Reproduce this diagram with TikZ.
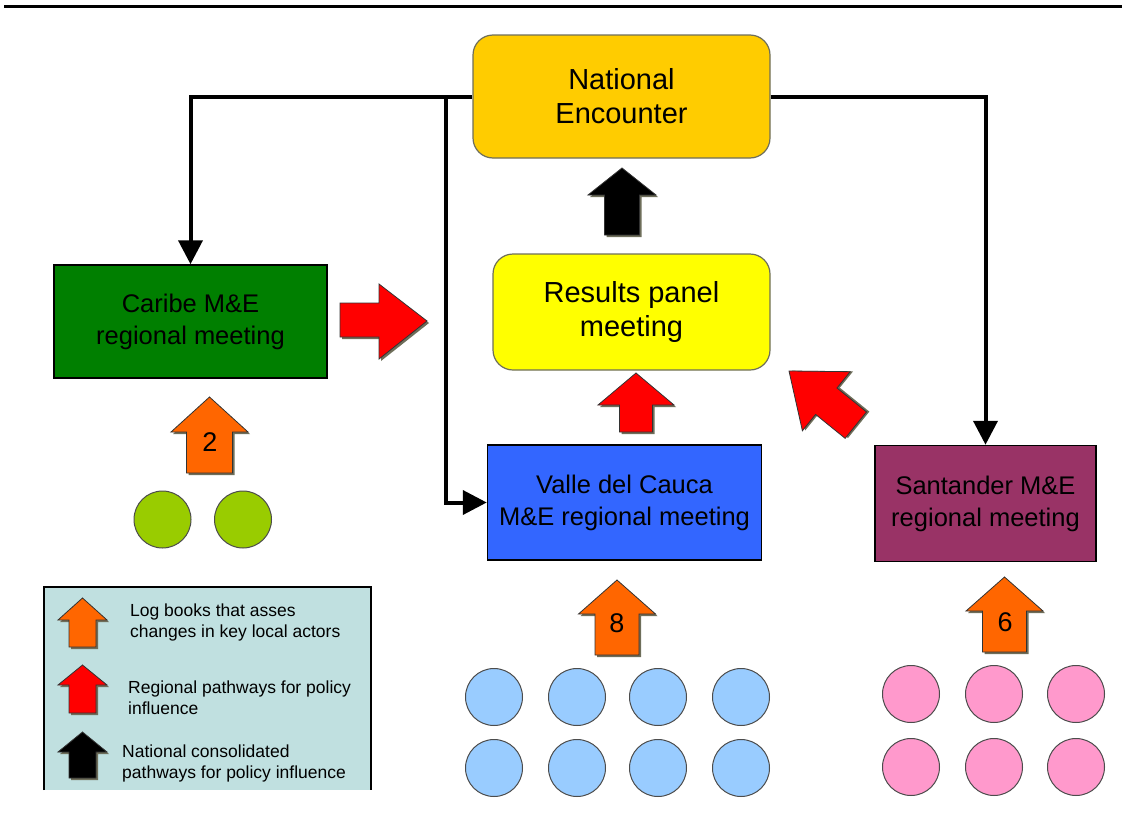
\documentclass[tikz,border=0pt]{standalone}
\usepackage{fontspec}
\setmainfont{Liberation Sans}
\usetikzlibrary{arrows.meta}
\definecolor{natc}{HTML}{FFCC00}
\definecolor{resc}{HTML}{FFFF00}
\definecolor{carc}{HTML}{007F00}
\definecolor{valc}{HTML}{3366FF}
\definecolor{sanc}{HTML}{993366}
\definecolor{orc}{HTML}{FF6600}
\definecolor{redc}{HTML}{FF0000}
\definecolor{grc}{HTML}{99CC00}
\definecolor{bluc}{HTML}{99CCFF}
\definecolor{pinkc}{HTML}{FF99CC}
\definecolor{legc}{HTML}{C0E0E0}
\definecolor{shadc}{HTML}{6E6E5A}
\newcommand\blockup[7]{%
  \fill[shadc] ({#2+2},{#3+2}) -- ({#2+#6+2},{#4+2}) -- ({#2+#7+2},{#4+2}) -- ({#2+#7+2},{#5+2}) -- ({#2-#7+2},{#5+2}) -- ({#2-#7+2},{#4+2}) -- ({#2-#6+2},{#4+2}) -- cycle;
  \filldraw[fill=#1, draw=black!80, line width=0.8pt] (#2,#3) -- ({#2+#6},#4) -- ({#2+#7},#4) -- ({#2+#7},#5) -- ({#2-#7},#5) -- ({#2-#7},#4) -- ({#2-#6},#4) -- cycle;}
\begin{document}
\begin{tikzpicture}[x=1pt,y=-1pt,
  rbox/.style={draw=shadc, line width=1.2pt, rounded corners=20pt, align=center, inner sep=0pt,
    font=\fontsize{29}{34}\selectfont},
  sbox/.style={draw=black, line width=1.5pt, align=center, inner sep=0pt,
    font=\fontsize{25.5}{32}\selectfont},
  conn/.style={line width=4pt, -{Triangle[width=24pt,length=24pt]}},
  actor/.style={circle, draw=black!70, line width=1pt, minimum size=57pt, inner sep=0pt},
  legtext/.style={anchor=west, align=left, inner sep=0pt, font=\fontsize{17.5}{21}\selectfont},
  num/.style={inner sep=0pt, font=\fontsize{27}{30}\selectfont}]
\useasboundingbox (0,0) rectangle (1122,814);
% top rule
\draw[line width=3.3pt] (4,6.3) -- (1122,6.3);

% boxes
\node[rbox, fill=natc, minimum width=297pt, minimum height=123pt] (nat) at (621.5,96.5) {National\\Encounter};
\node[rbox, fill=resc, minimum width=277pt, minimum height=116pt] (res) at (631.5,312) {Results panel\\meeting};
\node[sbox, fill=carc, minimum width=273pt, minimum height=113pt] (car) at (190.5,321.5) {Caribe M\&E\\regional meeting};
\node[sbox, fill=valc, minimum width=274pt, minimum height=115pt] (val) at (624.5,502.5) {Valle del Cauca\\M\&E regional meeting};
\node[sbox, fill=sanc, minimum width=221pt, minimum height=116pt] (san) at (985.5,503.5) {Santander M\&E\\regional meeting};

% connectors
\coordinate (j) at (446,96.5);
\draw[conn] (nat.west) -| (car.north);
\draw[conn] (j) |- (val.west);
\draw[conn] (nat.east) -| (san.north);

% block arrows
\blockup{black}{622}{168}{195}{235}{34}{17.5}
\blockup{redc}{636}{373}{405}{432}{38}{16.5}
\blockup{orc}{209.5}{397}{432}{473}{38.5}{23}
\blockup{orc}{617}{580}{614}{655}{38.5}{22}
\blockup{orc}{1004.5}{577}{611}{652}{38.5}{22}
\node[num] (n2) at (210,442) {2};
\node[num] (n8) at (617,623) {8};
\node[num] (n6) at (1005,622) {6};

% right red arrow
\fill[shadc] (342,305) -- (381,305) -- (381,286) -- (429,323) -- (381,361) -- (381,339) -- (342,339) -- cycle;
\filldraw[fill=redc, draw=black!80, line width=0.8pt] (340,303) -- (379,303) -- (379,284) -- (427,321) -- (379,359) -- (379,337) -- (340,337) -- cycle;

% diagonal red arrow
\begin{scope}[shift={(789,371)}, rotate=51]
\blockup{redc}{0}{0}{48}{86}{38}{17}
\end{scope}

% actors
\node[actor, fill=grc] (g1) at (162.5,519.5) {};
\node[actor, fill=grc] (g2) at (243,519.5) {};
\foreach \i/\x in {1/494,2/577,3/658,4/741}{
  \node[actor, fill=bluc] (b1\i) at (\x,697) {};
  \node[actor, fill=bluc] (b2\i) at (\x,768) {};
}
\foreach \i/\x in {1/911,2/994,3/1076}{
  \node[actor, fill=pinkc] (p1\i) at (\x,694) {};
  \node[actor, fill=pinkc] (p2\i) at (\x,767) {};
}

% legend
\fill[legc] (44,587) rectangle (371,790);
\draw[line width=1.2pt] (44,790) -- (44,587) -- (371,587) -- (371,790);
\blockup{orc}{82.5}{598}{620}{647}{24.5}{13.5}
\blockup{redc}{82.5}{665}{685}{713}{24.5}{13.5}
\blockup{black}{82.5}{732}{752}{778}{24.5}{13.5}
\node[legtext] (l1) at (130,622.5) {Log books that asses\\changes in key local actors};
\node[legtext] (l2) at (128,698) {Regional pathways for policy\\influence};
\node[legtext] (l3) at (122,763) {National consolidated\\pathways for policy influence};
\end{tikzpicture}
\end{document}
